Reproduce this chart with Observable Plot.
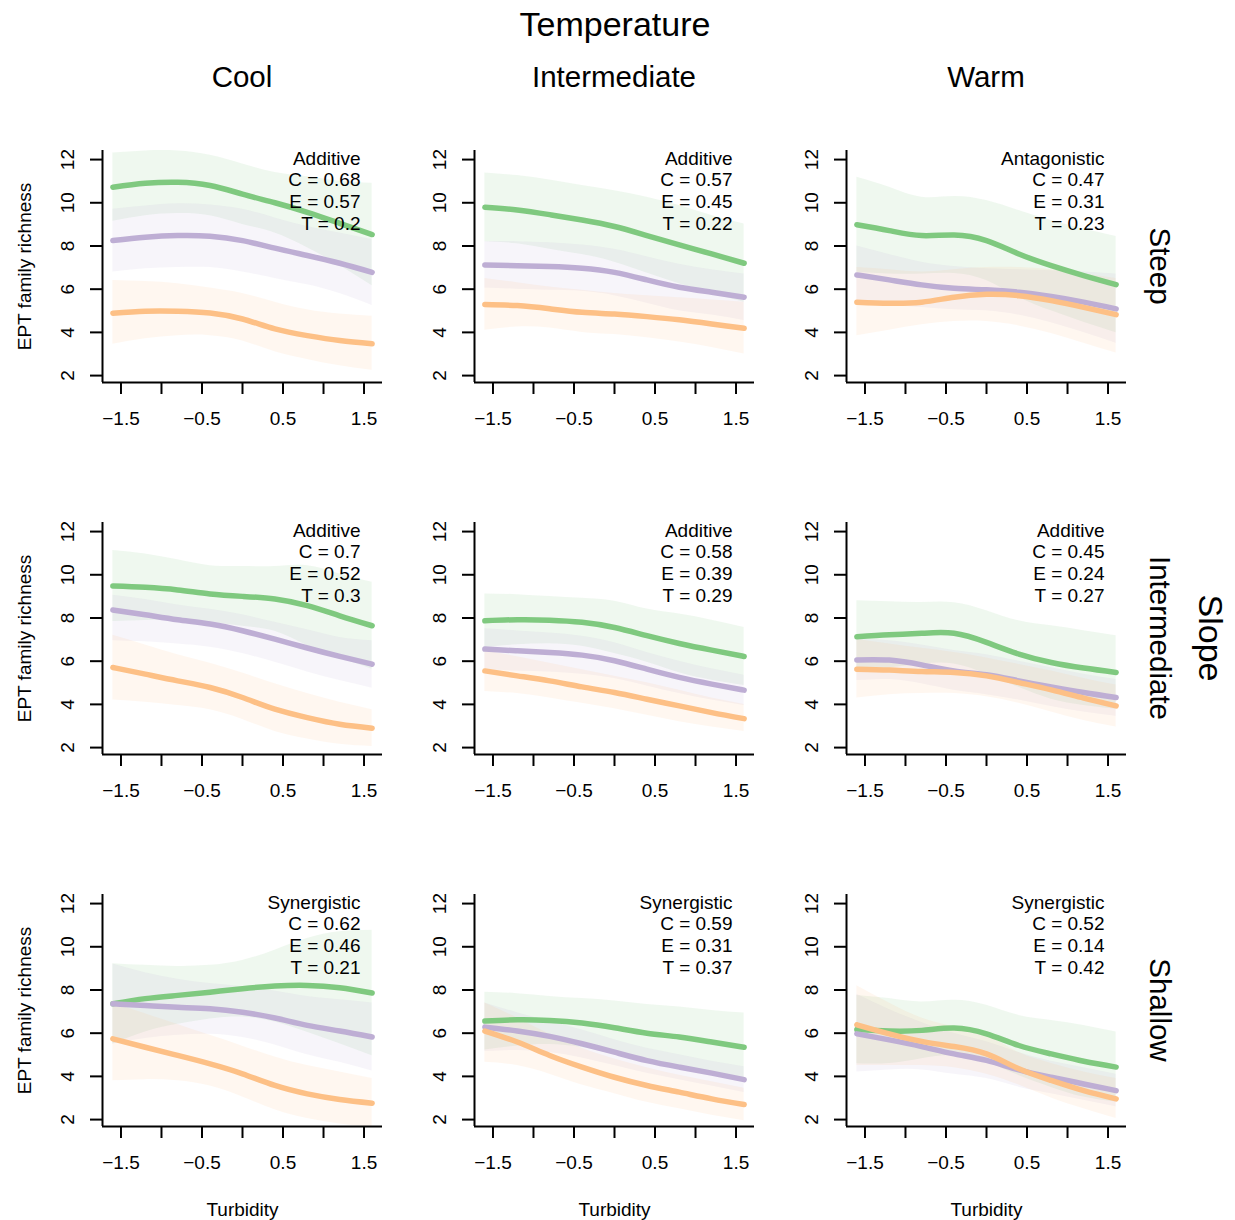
<!DOCTYPE html>
<html><head><meta charset="utf-8">
<script src="https://cdn.jsdelivr.net/npm/d3@7"></script>
<script src="https://cdn.jsdelivr.net/npm/@observablehq/plot@0.6"></script>
<style>
body{margin:0;background:#fff;}
#root{position:relative;width:1235px;height:1220px;font-family:"Liberation Sans",Arial,sans-serif;color:#000;overflow:hidden;}
.lbl{position:absolute;line-height:1;white-space:nowrap;transform:translate(-50%,-50%);}
.rot{transform:translate(-50%,-50%) rotate(90deg);}
</style></head><body><div id="root"></div><script>
// ---------- data ----------
const turbidity = [-1.6,-1.2,-0.8,-0.4,0,0.4,0.8,1.2,1.6];
const temperature = ["Cool","Intermediate","Warm"];
const slope = ["Steep","Intermediate","Shallow"];
// panels in row-major order: (Steep: Cool, Int, Warm), (Intermediate: ...), (Shallow: ...)
const interaction = ["Additive","Additive","Antagonistic","Additive","Additive","Additive","Synergistic","Synergistic","Synergistic"];
const cValue = [0.68,0.57,0.47,0.7,0.58,0.45,0.62,0.59,0.52];
const eValue = [0.57,0.45,0.31,0.52,0.39,0.24,0.46,0.31,0.14];
const tValue = [0.2,0.22,0.23,0.3,0.29,0.27,0.21,0.37,0.42];

const seriesNames = ["Series 1","Series 2","Series 3"];
const seriesColors = ["#7fc97f","#beaed4","#fdc086"];

const greenMean = [
 [10.72,10.9,10.95,10.8,10.4,10.0,9.56,9.05,8.53],
 [9.79,9.67,9.45,9.2,8.9,8.48,8.05,7.63,7.2],
 [8.98,8.71,8.48,8.51,8.25,7.63,7.09,6.63,6.21],
 [9.48,9.42,9.3,9.11,9.0,8.88,8.57,8.1,7.64],
 [7.87,7.92,7.9,7.8,7.56,7.18,6.82,6.51,6.22],
 [7.13,7.22,7.29,7.29,6.87,6.33,5.94,5.68,5.48],
 [7.36,7.6,7.75,7.9,8.06,8.18,8.21,8.1,7.86],
 [6.56,6.62,6.59,6.47,6.25,6.0,5.82,5.59,5.35],
 [6.17,6.1,6.13,6.24,5.97,5.43,5.04,4.7,4.43]];
const greenUpper = [
 [12.3,12.4,12.4,12.2,11.8,11.4,11.2,11.0,10.9],
 [11.38,11.26,11.06,10.8,10.56,10.26,9.87,9.41,9.02],
 [11.18,10.72,10.26,10.29,10.1,9.64,9.18,8.79,8.44],
 [11.12,10.96,10.69,10.42,10.38,10.38,10.42,10.04,9.65],
 [9.11,9.08,8.99,8.91,8.77,8.41,8.18,7.9,7.56],
 [8.8,8.75,8.72,8.71,8.34,7.87,7.64,7.41,7.18],
 [9.22,9.14,9.09,9.14,9.37,9.84,10.38,10.69,10.76],
 [7.9,7.83,7.7,7.6,7.49,7.33,7.21,7.05,6.93],
 [7.75,7.6,7.44,7.52,7.29,6.82,6.59,6.36,6.05]];
const greenLower = [
 [9.14,9.4,9.5,9.4,9.0,8.6,7.92,7.1,6.16],
 [8.2,8.1,7.85,7.6,7.25,6.75,6.25,5.8,5.4],
 [6.78,6.7,6.7,6.73,6.4,5.62,5.0,4.47,3.98],
 [7.84,7.88,7.91,7.8,7.62,7.38,6.72,6.16,5.63],
 [6.63,6.76,6.81,6.69,6.35,5.95,5.46,5.12,4.88],
 [5.46,5.69,5.86,5.87,5.4,4.79,4.24,3.95,3.78],
 [5.5,6.06,6.41,6.66,6.75,6.52,6.04,5.51,4.96],
 [5.22,5.41,5.48,5.34,5.01,4.67,4.43,4.13,3.77],
 [4.59,4.6,4.82,4.96,4.65,4.04,3.49,3.04,2.81]];

const purpleMean = [
 [8.25,8.4,8.48,8.45,8.25,7.9,7.56,7.2,6.78],
 [7.12,7.09,7.05,6.97,6.78,6.43,6.09,5.86,5.63],
 [6.66,6.43,6.2,6.04,5.97,5.86,5.66,5.4,5.09],
 [8.37,8.15,7.92,7.72,7.41,7.02,6.61,6.22,5.86],
 [6.56,6.48,6.4,6.28,6.02,5.63,5.25,4.94,4.66],
 [6.06,6.05,5.83,5.55,5.37,5.09,4.81,4.55,4.32],
 [7.36,7.28,7.2,7.13,6.97,6.7,6.36,6.1,5.82],
 [6.28,6.1,5.85,5.51,5.12,4.73,4.43,4.15,3.85],
 [5.97,5.69,5.38,5.04,4.74,4.3,3.96,3.65,3.34]];
const purpleUpper = [
 [9.7,9.85,9.95,9.9,9.7,9.3,8.9,8.6,8.3],
 [8.2,8.2,8.15,8.05,7.85,7.5,7.15,6.9,6.7],
 [8.0,7.6,7.25,7.05,6.95,6.9,6.85,6.8,6.7],
 [9.05,8.85,8.6,8.4,8.15,7.8,7.45,7.1,6.95],
 [7.5,7.4,7.3,7.15,6.85,6.4,6.0,5.65,5.35],
 [7.0,6.95,6.75,6.5,6.3,6.0,5.7,5.4,5.15],
 [9.2,8.8,8.5,8.3,8.15,7.95,7.7,7.55,7.4],
 [7.4,6.95,6.55,6.15,5.7,5.3,5.0,4.7,4.45],
 [7.8,7.1,6.5,6.0,5.6,5.1,4.7,4.4,4.1]];
const purpleLower = [
 [6.8,6.95,7.0,7.0,6.8,6.5,6.2,5.8,5.25],
 [6.05,6.0,5.95,5.9,5.7,5.35,5.0,4.8,4.55],
 [5.3,5.25,5.15,5.05,5.0,4.8,4.45,4.0,3.5],
 [6.95,6.9,6.8,6.65,6.35,5.95,5.5,5.1,4.75],
 [5.6,5.55,5.5,5.4,5.2,4.85,4.5,4.2,3.95],
 [5.1,5.15,4.95,4.65,4.45,4.2,3.9,3.65,3.45],
 [5.5,5.75,5.9,5.95,5.8,5.45,5.0,4.65,4.25],
 [5.15,5.2,5.1,4.85,4.5,4.15,3.85,3.55,3.25],
 [4.2,4.3,4.3,4.1,3.9,3.5,3.2,2.9,2.6]];

const orangeMean = [
 [4.89,4.98,4.98,4.9,4.62,4.16,3.85,3.62,3.47],
 [5.29,5.24,5.09,4.93,4.85,4.73,4.58,4.39,4.19],
 [5.4,5.35,5.4,5.63,5.76,5.7,5.47,5.16,4.82],
 [5.71,5.4,5.09,4.78,4.32,3.78,3.39,3.08,2.9],
 [5.55,5.32,5.09,4.81,4.55,4.24,3.93,3.62,3.34],
 [5.63,5.59,5.52,5.48,5.32,5.01,4.67,4.29,3.93],
 [5.74,5.35,4.97,4.58,4.12,3.58,3.19,2.93,2.76],
 [6.1,5.59,4.97,4.43,3.96,3.58,3.27,2.96,2.7],
 [6.39,5.97,5.62,5.38,5.04,4.35,3.81,3.34,2.96]];
const orangeUpper = [
 [6.4,6.35,6.25,6.05,5.8,5.4,5.05,4.85,4.75],
 [6.5,6.3,6.1,5.95,5.8,5.7,5.6,5.5,5.4],
 [7.0,6.9,6.8,6.9,7.0,7.0,6.9,6.7,6.5],
 [7.2,6.75,6.3,5.9,5.45,4.95,4.5,4.1,3.75],
 [6.5,6.2,5.9,5.6,5.3,5.0,4.65,4.3,4.0],
 [7.0,6.8,6.6,6.4,6.15,5.85,5.55,5.2,4.9],
 [7.4,6.9,6.4,5.9,5.4,4.9,4.5,4.2,3.9],
 [7.4,6.7,5.95,5.3,4.8,4.4,4.05,3.75,3.45],
 [8.2,7.4,6.7,6.3,5.9,5.1,4.6,4.2,3.9]];
const orangeLower = [
 [3.45,3.7,3.85,3.85,3.6,3.1,2.75,2.45,2.25],
 [4.1,4.25,4.2,4.0,3.9,3.75,3.55,3.3,3.0],
 [3.85,4.1,4.35,4.5,4.5,4.3,3.95,3.5,3.05],
 [4.2,4.1,3.95,3.75,3.3,2.75,2.4,2.15,2.05],
 [4.6,4.5,4.3,4.05,3.8,3.5,3.2,2.95,2.75],
 [4.3,4.45,4.5,4.5,4.35,4.05,3.65,3.25,2.95],
 [3.8,3.85,3.8,3.55,3.05,2.45,2.05,1.8,1.65],
 [4.65,4.5,4.1,3.6,3.2,2.8,2.5,2.2,1.95],
 [4.5,4.5,4.5,4.4,4.1,3.6,3.0,2.5,2.05]];

const yTicks = [2,4,6,8,10,12];
const xTicks = [-1.5,-1,-0.5,0,0.5,1,1.5];
const xTickLabels = ["\u22121.5","","\u22120.5","","0.5","","1.5"];
const xDomain = [-1.728, 1.728];
const yDomain = [1.68, 12.42];

// ---------- layout ----------
const root = document.getElementById("root");
const FONT = '"Liberation Sans", Arial, sans-serif';
function label(text, x, y, size, rotate) {
  const d = document.createElement("div");
  d.className = "lbl" + (rotate ? " rot" : "");
  d.textContent = text;
  d.style.left = x + "px"; d.style.top = y + "px"; d.style.fontSize = size + "px";
  root.appendChild(d);
}
label("Temperature", 615, 24, 34);
temperature.forEach((t, c) => label(t, 242 + 372 * c, 77, 29.5));
slope.forEach((s, r) => label(s, 1160, 266 + 372 * r, 29.5, true));
label("Slope", 1211, 638, 34, true);

const series = [
  {name: seriesNames[0], mean: greenMean, lo: greenLower, hi: greenUpper},
  {name: seriesNames[1], mean: purpleMean, lo: purpleLower, hi: purpleUpper},
  {name: seriesNames[2], mean: orangeMean, lo: orangeLower, hi: orangeUpper}
];

for (let r = 0; r < 3; r++) {
  for (let c = 0; c < 3; c++) {
    const p = r * 3 + c;
    const rows = [];
    series.forEach(s => turbidity.forEach((x, i) => rows.push({
      series: s.name, x, mean: s.mean[p][i], lo: s.lo[p][i], hi: s.hi[p][i]
    })));
    const annot = `${interaction[p]}\nC = ${cValue[p]}\nE = ${eValue[p]}\nT = ${tValue[p]}`;
    const marks = [
      Plot.areaY(rows, {x: "x", y1: "lo", y2: "hi", z: "series", fill: "series", fillOpacity: 0.12, curve: "natural", clip: true}),
      Plot.line(rows, {x: "x", y: "mean", z: "series", stroke: "series", strokeWidth: 5.5, strokeLinecap: "round", curve: "natural", clip: true}),
      Plot.ruleX([xDomain[0]], {strokeWidth: 2}),
      Plot.ruleY([yDomain[0]], {strokeWidth: 2}),
      Plot.axisY({ticks: yTicks, tickSize: 12, strokeWidth: 2, tickFormat: () => "", label: null}),
      Plot.text(yTicks, {y: d => d, text: d => String(d), frameAnchor: "left", dx: -35, rotate: -90, textAnchor: "middle", lineAnchor: "middle", fontSize: 19}),
      Plot.axisX({ticks: xTicks, tickSize: 12, strokeWidth: 2, tickPadding: 17, fontSize: 19, label: null,
        tickFormat: d => xTickLabels[xTicks.indexOf(d)]}),
      Plot.text([annot], {frameAnchor: "top-right", dx: -22, dy: -1.3, textAnchor: "end", lineAnchor: "top", lineHeight: 1.14, fontSize: 19})
    ];
    if (c === 0) marks.push(Plot.text(["EPT family richness"], {frameAnchor: "left", dx: -78, rotate: -90, textAnchor: "middle", lineAnchor: "middle", fontSize: 19}));
    if (r === 2) marks.push(Plot.text(["Turbidity"], {frameAnchor: "bottom", dy: 83, textAnchor: "middle", lineAnchor: "middle", fontSize: 19}));
    const svg = Plot.plot({
      width: 400, height: 372,
      marginLeft: 102, marginRight: 18, marginTop: 30, marginBottom: 110,
      x: {domain: xDomain, label: null},
      y: {domain: yDomain, label: null},
      color: {type: "ordinal", domain: seriesNames, range: seriesColors},
      style: {fontFamily: FONT, fontSize: "19px", background: "transparent", overflow: "visible", color: "#000"},
      marks
    });
    svg.style.position = "absolute";
    svg.style.left = (372 * c) + "px";
    svg.style.top = (120 + 372 * r) + "px";
    root.appendChild(svg);
  }
}
</script></body></html>
